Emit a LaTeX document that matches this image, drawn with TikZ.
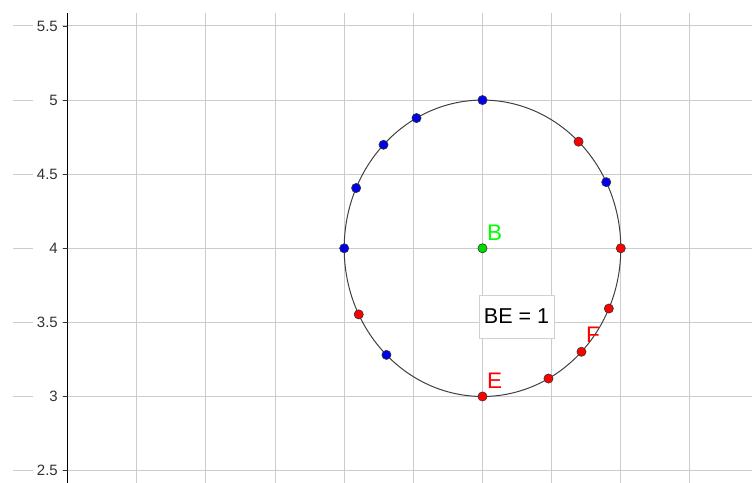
\documentclass[tikz,border=0pt]{standalone}
\usepackage{fontspec}
\setmainfont{Liberation Sans}
\definecolor{gridgray}{RGB}{204,204,204}
\definecolor{ptblue}{RGB}{0,0,235}
\definecolor{ptred}{RGB}{255,0,0}
\definecolor{ptgreen}{RGB}{0,220,0}
\definecolor{lblgreen}{RGB}{0,255,0}

\begin{document}
\begin{tikzpicture}[x=138.3pt, y=148.2pt,
    gridln/.style={gridgray, line width=1pt},
    ticklbl/.style={fill=white, text=black!80, font=\fontsize{15}{15}\selectfont,
      anchor=east, text width=21pt, align=right, inner xsep=4pt, inner ysep=2pt},
    dotb/.style={circle, fill=ptblue, draw=black!80, line width=0.6pt,
      inner sep=0pt, minimum size=9.2pt},
    dotr/.style={dotb, fill=ptred},
    ptlbl/.style={font=\fontsize{22.5}{22}\selectfont, anchor=base west, inner sep=0pt}]
      \useasboundingbox (-0.4888,2.4163) rectangle (4.9487,5.6754);
      % grid
      \foreach \x in {0.5,1,1.5,2,2.5,3,3.5,4,4.5} { \draw[gridln] (\x,2.4163) -- (\x,5.5877); }
      \foreach \y in {2.5,3,3.5,4,4.5,5,5.5} { \draw[gridln] (-0.3948,\y) -- (4.9487,\y); }
      \draw[black, line width=0.8pt] (0,2.4163) -- (0,5.5877);
      \foreach \y [count=\i] in {2.5,3,3.5,4,4.5,5,5.5} {
        \node[ticklbl] (tick\i) at (-0.0405,\y) {\y};
        \draw[black!80, line width=0.8pt] (-0.03,\y) -- (0,\y);
      }
      % circle about B
      \coordinate (B) at (3,4);
      \draw[black!75, line width=1pt] (B) circle (1);
      \foreach \a [count=\i] in {90,118.5,135.7,156,180,226,26.5} {
        \node[dotb] (b\i) at ({3+cos(\a)},{4+sin(\a)}) {};
      }
      \foreach \a [count=\i] in {-90,-61.5,-44.3,-24,0,46,206.5} {
        \node[dotr] (r\i) at ({3+cos(\a)},{4+sin(\a)}) {};
      }
      \node[dotb, fill=ptgreen] (ctr) at (B) {};
      \node[ptlbl, text=lblgreen] (lblB) at (3.0326,4.0493) {B};
      \node[ptlbl, text=ptred] (lblE) at (3.0326,3.0553) {E};
      \node[ptlbl, text=ptred] (lblF) at (3.7484,3.3610) {F};
      \node[draw=black!18, fill=white, font=\fontsize{21.5}{22}\selectfont,
        minimum width=75pt, minimum height=43pt, inner sep=0pt] (be) at (3.2458,3.5398) {BE = 1};
    \end{tikzpicture}
\end{document}
